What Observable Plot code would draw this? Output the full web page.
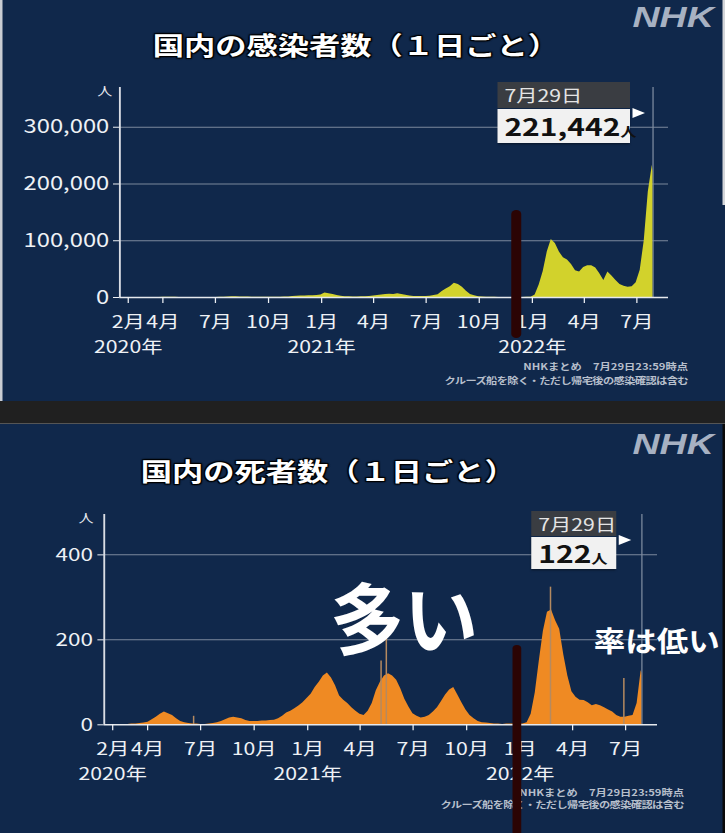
<!DOCTYPE html>
<html><head><meta charset="utf-8">
<script src="https://cdn.jsdelivr.net/npm/d3@7"></script>
<script src="https://cdn.jsdelivr.net/npm/@observablehq/plot@0.6"></script>
<style>
html,body{margin:0;padding:0;background:#10284b;width:725px;height:833px;overflow:hidden;}
#stage{position:absolute;left:0;top:0;width:580px;height:833px;transform:scaleX(1.25);transform-origin:0 0;font-family:"Noto Sans CJK JP","Noto Sans",sans-serif;}
.abs{position:absolute;}
.title{position:absolute;font-size:25px;font-weight:bold;color:#fff;line-height:1;white-space:nowrap;transform:translateX(-50%);
 text-shadow:0 0 2px #000,1px 1px 1px #000,-1px -1px 1px #000,1px -1px 1px #000,-1px 1px 1px #000;}
.nhk{position:absolute;font-family:"Liberation Sans",sans-serif;font-weight:bold;font-style:italic;font-size:30px;line-height:1;color:#a7b1c2;}
.foot{position:absolute;font-size:9px;font-weight:bold;color:#b7bfcb;line-height:1;white-space:nowrap;text-align:right;}
.hdr{position:absolute;background:#3a3d42;color:#e4e4e4;font-size:17px;box-sizing:border-box;padding-left:5.6px;white-space:nowrap;}
.val{position:absolute;background:#f1f1f1;color:#111;font-weight:bold;font-size:24px;box-sizing:border-box;padding-left:5.6px;white-space:nowrap;box-shadow:0 1px 2px rgba(0,0,0,.5);}
.val small{font-size:13px;font-weight:bold;}
.tri{position:absolute;width:0;height:0;border-top:5px solid transparent;border-bottom:5px solid transparent;border-left:10px solid #fff;}
.big{position:absolute;color:#fff;font-weight:bold;line-height:1;white-space:nowrap;transform-origin:0 0;}
.marker{position:absolute;background:#2b0404;border-radius:4px;}
</style></head>
<body>
<div id="stage">
  <div class="abs" style="left:0;top:0;width:580px;height:401px;background:#10284b;border-left:2px solid #c9cdd3;box-sizing:border-box;"></div>
  <div class="abs" style="left:577.6px;top:0;width:2.4px;height:205px;background:#d4d6da;"></div>
  <div class="abs" style="left:0;top:401px;width:580px;height:23px;background:#202020;border-bottom:1px solid #555;box-sizing:border-box;"></div>
  <div class="abs" style="left:0;top:424px;width:580px;height:409px;background:#10284b;"></div>
  <div class="abs" style="left:577.6px;top:424px;width:2.4px;height:409px;background:#0a0a0a;"></div>

  <div class="nhk" style="left:506px;top:2px;">NHK</div>
  <div class="nhk" style="left:506px;top:429px;">NHK</div>
  <div class="title" style="left:284.8px;top:32px;">国内の感染者数（１日ごと）</div>
  <div class="title" style="left:262.6px;top:458px;">国内の死者数（１日ごと）</div>

  <div id="topChart" class="abs" style="left:0;top:60px;"></div>
  <div id="botChart" class="abs" style="left:0;top:490px;"></div>

  <div class="foot" style="right:29.6px;top:362px;">NHKまとめ　7月29日23:59時点</div>
  <div class="foot" style="right:29.6px;top:375.5px;letter-spacing:-0.5px;">クルーズ船を除く・ただし帰宅後の感染確認は含む</div>
  <div class="foot" style="right:32.8px;top:788px;">NHKまとめ　7月29日23:59時点</div>
  <div class="foot" style="right:32.8px;top:799.5px;letter-spacing:-0.5px;">クルーズ船を除く・ただし帰宅後の感染確認は含む</div>

  <div id="tips"></div>

  <div class="big" style="left:264px;top:576px;font-size:78px;transform:scaleX(0.76);">多い</div>
  <div class="big" style="left:475px;top:626px;font-size:28px;transform:scaleX(0.9);">率は低い</div>

  <div class="marker" style="left:409px;top:210px;width:8px;height:128px;"></div>
  <div class="marker" style="left:409.6px;top:645px;width:7.4px;height:200px;border-radius:4px 4px 0 0;"></div>
</div>
<script>
// ---- data ----
const weekStart = "2020-01-16"; // weekly readings, one every 7 days from this date
const casesWeekly = [
  0, 0, 2,
  5, 10, 20, 25,
  40, 50, 50, 100,
  250, 500, 550, 400, 200,
  100, 50, 30, 40,
  40, 50, 60, 100,
  200, 350, 600, 900, 1300,
  1500, 1100, 1000, 800,
  600, 550, 550, 500,
  550, 550, 600, 650, 800,
  1100, 1600, 2300, 2500,
  2500, 2900, 3200, 3700, 4500,
  7800, 6500, 5500, 3500,
  2300, 1500, 1300, 1100,
  1100, 1300, 1500, 1900,
  2500, 3400, 4500, 5200, 5800,
  5500, 6800, 5500, 4000,
  2700, 1900, 1600, 1700,
  1900, 2300, 3400, 5000, 10500,
  15000, 19000, 25000, 23000,
  18000, 11000, 5500, 3200, 1500,
  900, 600, 350, 250,
  200, 180, 150, 120,
  120, 150, 180, 250, 500,
  4500, 22000, 46000, 80000,
  102000, 95000, 80000, 70000,
  66000, 58000, 47000, 45000, 53000,
  56000, 56000, 52000, 42000,
  30000, 45000, 38000, 30000,
  23000, 20000, 18000, 19000, 26000,
  48000, 100000, 186000, 233000
];
const deathsWeekly = [
  0, 0, 0,
  0, 1, 1, 1,
  2, 2, 3, 4,
  6, 12, 18, 25, 30,
  26, 22, 14, 8,
  5, 3, 2, 2,
  1, 1, 2, 3, 5,
  8, 12, 16, 18,
  16, 14, 10, 8,
  8, 8, 9, 9, 10,
  11, 14, 20, 28,
  32, 38, 44, 52, 62,
  72, 88, 100, 115,
  122, 110, 92, 68,
  58, 50, 40, 32,
  25, 22, 32, 50, 80,
  100, 115, 120, 115,
  105, 85, 60, 42,
  26, 20, 16, 18, 22,
  30, 40, 55, 70,
  82, 88, 70, 52, 35,
  22, 14, 8, 5,
  4, 3, 2, 2,
  1, 2, 2, 2, 2,
  2, 5, 25, 75,
  150, 220, 265, 270,
  245, 225, 165, 115, 78,
  65, 58, 57, 52,
  45, 48, 45, 40,
  35, 30, 22, 18, 18,
  20, 22, 50, 128
];
const lastDay = "2022-07-29";
const lastCases = 221442;
const lastDeaths = 122;
const deathSpikeDates = ["2020-06-19", "2021-05-07", "2021-05-16", "2022-02-22", "2022-06-28"];
const deathSpikeValues = [20, 150, 216, 324, 109];
const monthTickDates = ["2020-02-01","2020-04-01","2020-07-01","2020-10-01","2021-01-01","2021-04-01","2021-07-01","2021-10-01","2022-01-01","2022-04-01","2022-07-01"];
const monthTickLabels = ["2月","4月","7月","10月","1月","4月","7月","10月","1月","4月","7月"];
const yearTickDates = ["2020-02-01","2021-01-01","2022-01-01"];
const yearTickLabels = ["2020年","2021年","2022年"];
const caseTicks = [0, 100000, 200000, 300000];
const deathTicks = [0, 200, 400];
const xDomain = ["2020-01-17T12:00:00Z", "2022-08-25T00:00:00Z"];

// ---- build tables ----
function weeklyRows(values, lastValue) {
  const t0 = new Date(weekStart + "T00:00:00Z");
  const rows = values.map((v, i) => ({date: new Date(+t0 + i * 7 * 864e5), value: v}));
  rows.push({date: new Date(lastDay + "T00:00:00Z"), value: lastValue});
  return rows;
}
const casesRows = weeklyRows(casesWeekly, lastCases);
const deathsRows = weeklyRows(deathsWeekly, lastDeaths);
const spikeRows = deathSpikeDates.map((d, i) => ({date: new Date(d + "T00:00:00Z"), value: deathSpikeValues[i]}));

const font = '"Noto Sans CJK JP","Noto Sans",sans-serif';
const mDates = monthTickDates.map(d => new Date(d + "T00:00:00Z"));
const yDates = yearTickDates.map(d => new Date(d + "T00:00:00Z"));
const mLab = new Map(mDates.map((d, i) => [+d, monthTickLabels[i]]));
const yLab = new Map(yDates.map((d, i) => [+d, yearTickLabels[i]]));
const last = new Date(lastDay + "T00:00:00Z");

function chart(o) {
  const x0 = new Date(xDomain[0]), x1 = new Date(xDomain[1]);
  return Plot.plot({
    width: 580, height: o.h,
    marginLeft: o.ml, marginRight: o.mr, marginTop: o.mt, marginBottom: o.mb,
    style: {background: "transparent", overflow: "visible", fontFamily: font, color: "#eef1f5"},
    x: {type: "utc", domain: [x0, x1]},
    y: {domain: [0, o.yMax]},
    marks: [
      Plot.ruleY(o.ticks.filter(t => t > 0), {stroke: "#7b889c", strokeWidth: 1}),
      Plot.ruleX([last], {stroke: "#7f8ca0", strokeWidth: 1}),
      Plot.areaY(o.series, {x: "date", y: "value", fill: o.fill, curve: "linear"}),
      o.spikes ? Plot.ruleX(o.spikes, {x: "date", y1: 0, y2: "value", stroke: "#b58a60", strokeWidth: 1.2}) : null,
      Plot.ruleX([x0], {stroke: "#d9dde4", strokeWidth: 1.5}),
      Plot.ruleY([0], {stroke: "#e6e9ee", strokeWidth: 1.5}),
      Plot.axisY(o.ticks, {tickSize: 5, tickPadding: o.yPad, tickFormat: d => d.toLocaleString("en-US"), fontSize: o.yFont, color: "#eef1f5", label: null}),
      Plot.axisX(mDates, {tickSize: 6, tickPadding: 12, tickFormat: d => mLab.get(+d), fontSize: 17, color: "#eef1f5", label: null}),
      Plot.axisX(yDates, {tickSize: 0, tickPadding: 43, tickFormat: d => yLab.get(+d), fontSize: 17, color: "#eef1f5", label: null}),
      Plot.text(["人"], {frameAnchor: "top-left", textAnchor: "middle", lineAnchor: "top", dx: o.unitDx, fontSize: 12, fill: "#e8ebf0"})
    ]
  });
}

const topPlot = chart({series: casesRows, ticks: caseTicks, yMax: 370000, fill: "#d2d22c",
  h: 300, ml: 95.4, mr: 45.6, mt: 27, mb: 63, yFont: 19, yPad: 3.5, unitDx: -12});
const botPlot = chart({series: deathsRows, spikes: spikeRows, ticks: deathTicks, yMax: 495, fill: "#ef8a23",
  h: 310, ml: 82.9, mr: 54.4, mt: 24, mb: 75.7, yFont: 18, yPad: 4, unitDx: -14.5});
document.getElementById("topChart").appendChild(topPlot);
document.getElementById("botChart").appendChild(botPlot);

// ---- tooltips anchored on the last day through the x scales ----
const tips = document.getElementById("tips");
function tooltip(px, c) {
  const left = px - c.gap - c.w;
  const h = document.createElement("div");
  h.className = "hdr";
  Object.assign(h.style, {left: left + "px", top: c.hTop + "px", width: c.w + "px", height: c.hH + "px", lineHeight: c.hH + "px"});
  h.textContent = "7月29日";
  const v = document.createElement("div");
  v.className = "val";
  Object.assign(v.style, {left: left + "px", top: c.vTop + "px", width: c.w + "px", height: c.vH + "px", lineHeight: c.vH + "px"});
  v.innerHTML = c.value + "<small>人</small>";
  const t = document.createElement("div");
  t.className = "tri";
  Object.assign(t.style, {left: (px - c.triGap) + "px", top: c.triTop + "px"});
  tips.append(h, v, t);
}
const pxTop = topPlot.scale("x").apply(last);
const pxBot = botPlot.scale("x").apply(last);
tooltip(pxTop, {gap: 17.6, w: 106.4, hTop: 82, hH: 26, vTop: 109, vH: 34, triGap: 16, triTop: 108,
  value: lastCases.toLocaleString("en-US")});
tooltip(pxBot, {gap: 19.6, w: 68.4, hTop: 511, hH: 25, vTop: 537, vH: 31.5, triGap: 17.6, triTop: 535,
  value: String(lastDeaths)});
</script>
</body></html>
